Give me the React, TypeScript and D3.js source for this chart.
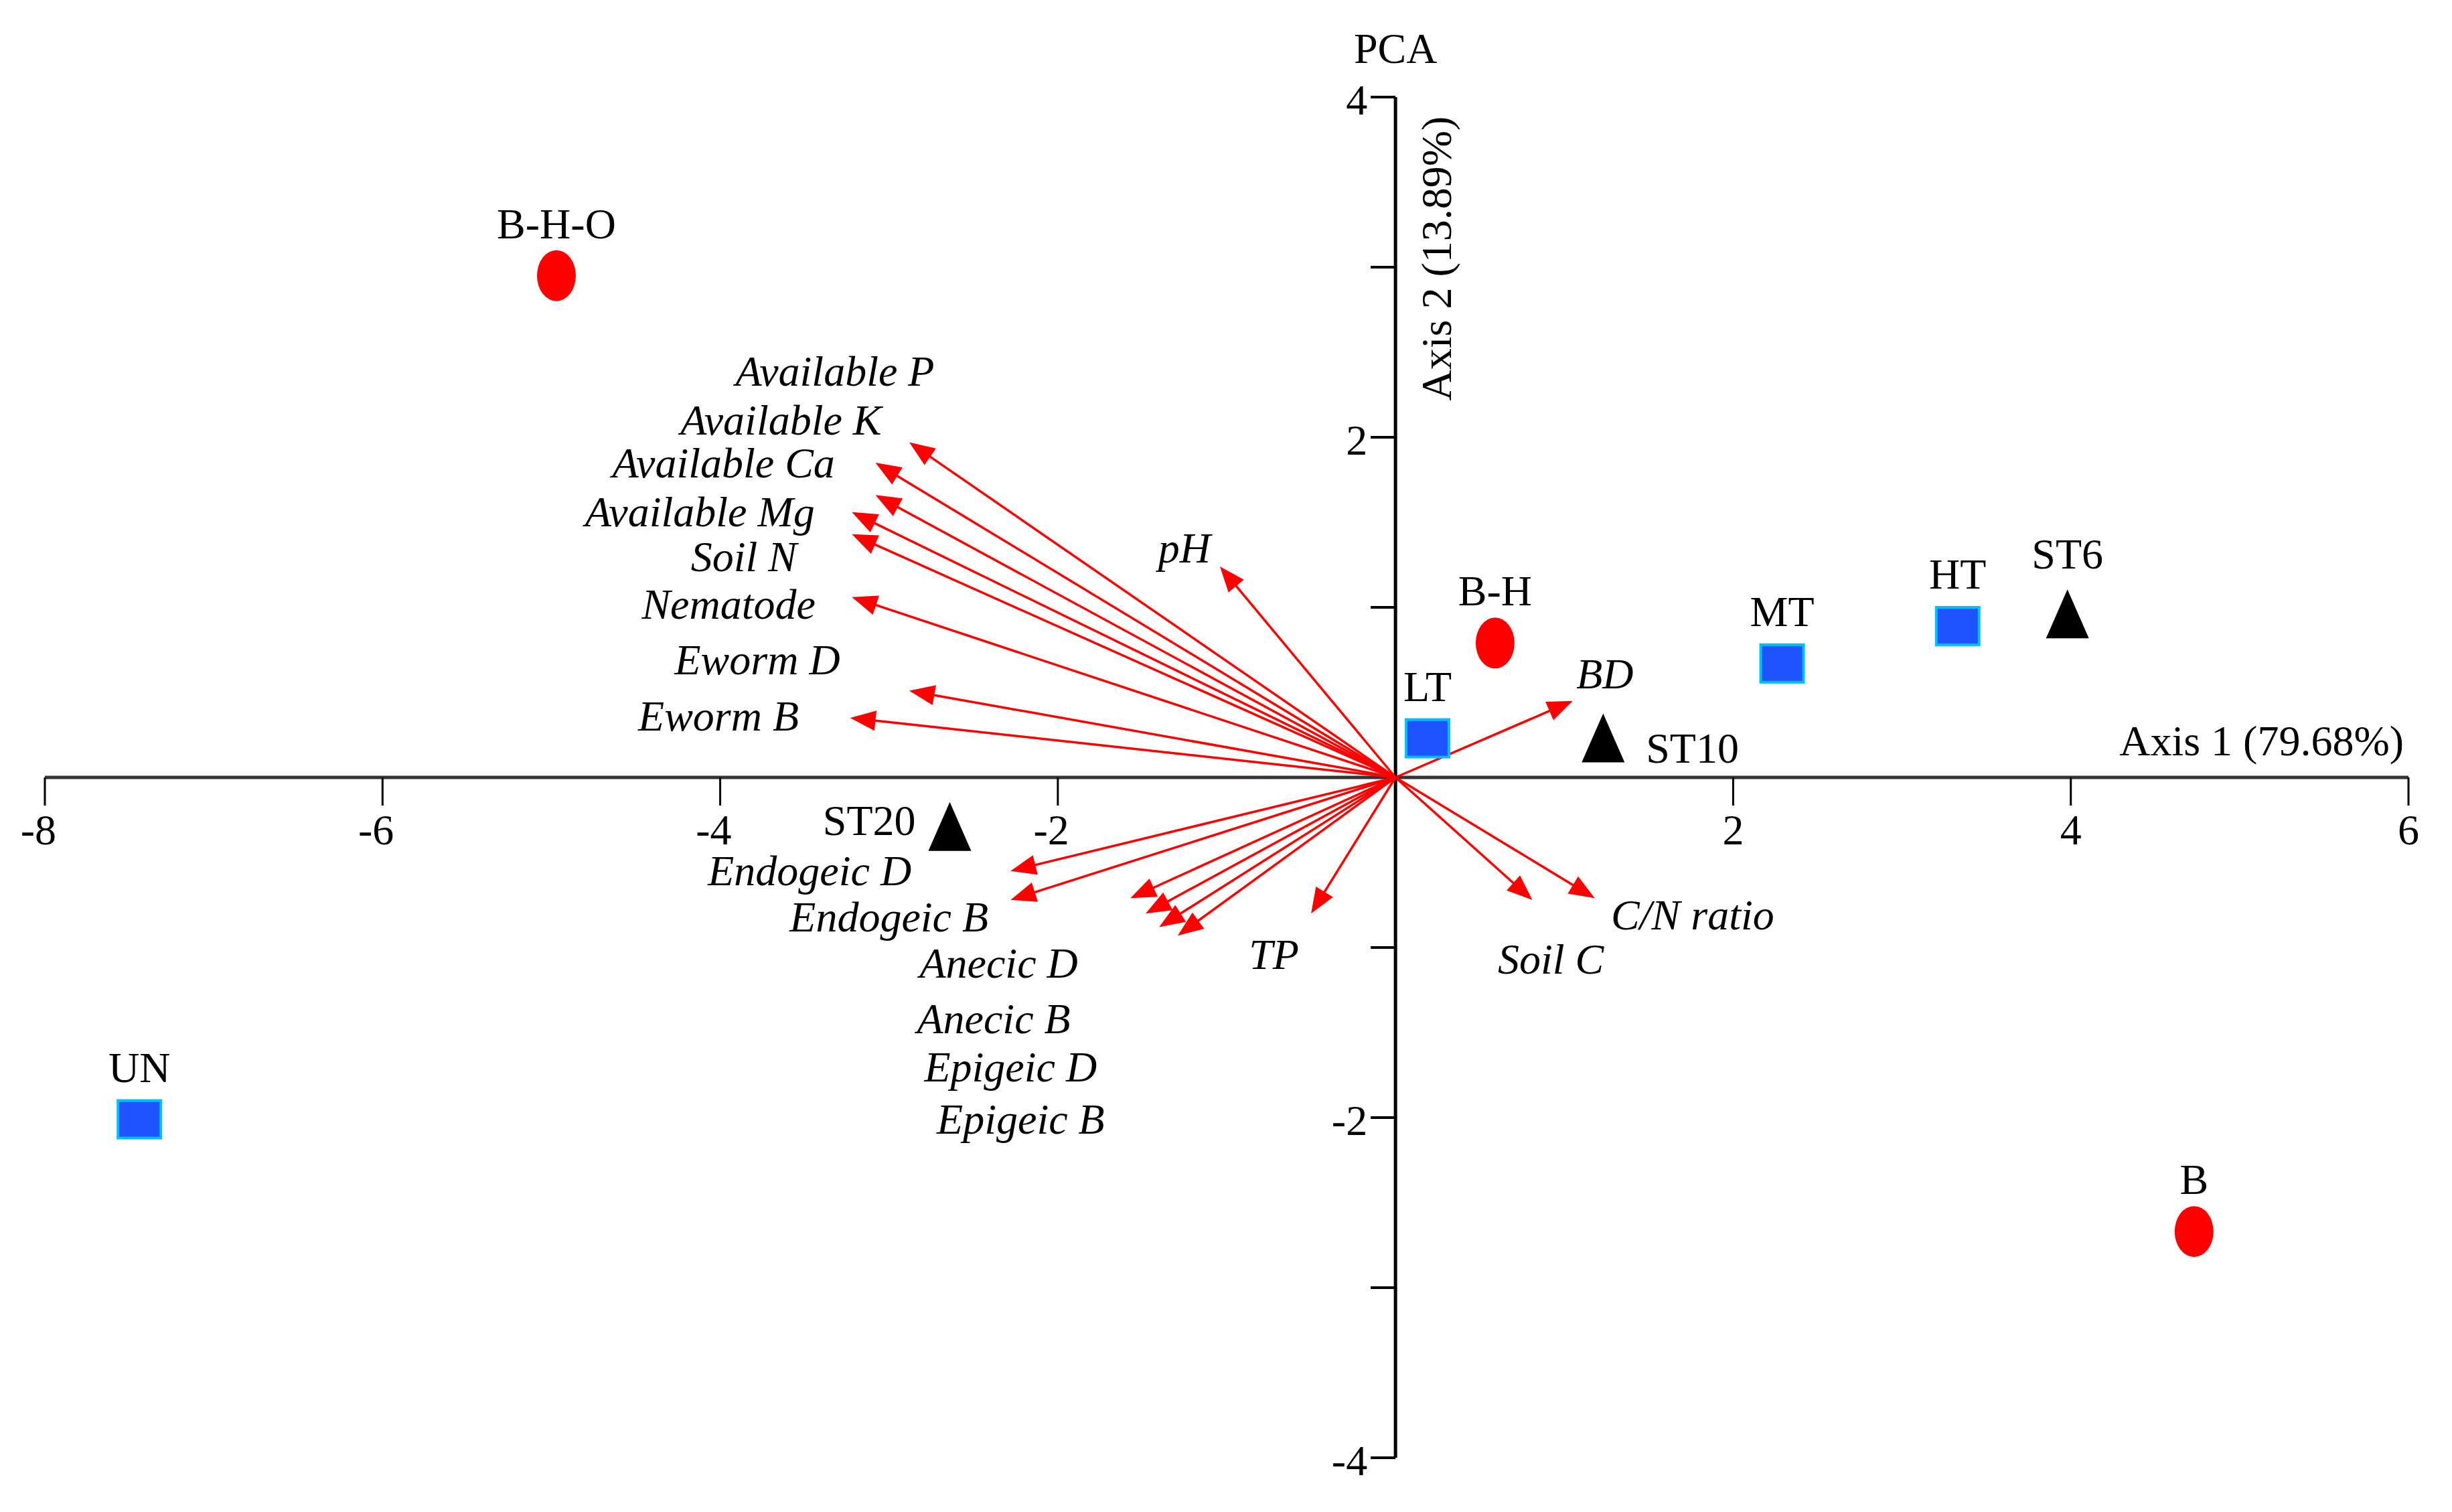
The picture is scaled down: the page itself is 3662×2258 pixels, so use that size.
import React from 'react';
import * as d3 from 'd3';

const W = 3662;
const H = 2258;

// Sample scores (Axis 1, Axis 2)
const sampleNames = ['B-H-O', 'B-H', 'B', 'UN', 'LT', 'MT', 'HT', 'ST6', 'ST10', 'ST20'];
const sampleX = [-4.97, 0.59, 4.73, -7.44, 0.19, 2.29, 3.33, 3.98, 1.23, -2.64];
const sampleY = [2.95, 0.79, -2.67, -2.01, 0.23, 0.67, 0.89, 0.96, 0.23, -0.29];
const sampleGroup = ['circle', 'circle', 'circle', 'square', 'square', 'square', 'square', 'triangle', 'triangle', 'triangle'];
const sampleLabelSide = ['above', 'above', 'above', 'above', 'above', 'above', 'above', 'above', 'right', 'left'];

// Variable loadings (arrow tips)
const varNames = [
  'Available P', 'Available K', 'Available Ca', 'Available Mg', 'Soil N', 'Nematode',
  'Eworm D', 'Eworm B', 'pH', 'Endogeic D', 'Endogeic B', 'Anecic D', 'Anecic B',
  'Epigeic D', 'Epigeic B', 'TP', 'Soil C', 'C/N ratio', 'BD',
];
const varX = [-2.88, -3.08, -3.08, -3.22, -3.22, -3.22, -2.88, -3.23, -1.04, -2.28, -2.28, -1.57, -1.48, -1.4, -1.29, -0.5, 0.81, 1.18, 1.05];
const varY = [1.97, 1.85, 1.66, 1.56, 1.43, 1.06, 0.51, 0.35, 1.24, -0.55, -0.72, -0.71, -0.8, -0.88, -0.93, -0.8, -0.72, -0.71, 0.45];
// Label anchor positions (data units, text centre)
const varLabelX = [-3.32, -3.64, -3.98, -4.12, -3.86, -3.95, -3.78, -4.01, -1.25, -3.47, -3.0, -2.35, -2.38, -2.28, -2.22, -0.72, 0.92, 1.76, 1.24];
const varLabelY = [2.36, 2.07, 1.82, 1.53, 1.27, 0.99, 0.66, 0.33, 1.32, -0.58, -0.85, -1.12, -1.45, -1.73, -2.04, -1.07, -1.1, -0.84, 0.58];

const xTickValues = [-8, -6, -4, -2, 2, 4, 6];
const yMajorTicks = [-4, -2, 2, 4];
const yMinorTicks = [-3, -1, 1, 3];

const FONT = "'Liberation Serif','Times New Roman',Times,serif";
const FS = 64;

export default function App() {
  const x = d3.scaleLinear().domain([-8, 6]).range([67, 3597]);
  const y = d3.scaleLinear().domain([-4, 4]).range([2177, 145]);
  const x0 = x(0);
  const y0 = y(0);

  const headLen = 38;
  const headHalf = 15;

  return (
    <svg
      width={W}
      height={H}
      style={{ position: 'absolute', left: 0, top: 0, background: '#fff' }}
      fontFamily={FONT}
    >
      <rect x={0} y={0} width={W} height={H} fill="#fff" />

      {/* Axes */}
      <line x1={x(-8)} x2={x(6)} y1={y0} y2={y0} stroke="#333" strokeWidth={5} />
      <line x1={x0} x2={x0} y1={y(4)} y2={y(-4)} stroke="#000" strokeWidth={5} />

      {xTickValues.map((v) => (
        <g key={'xt' + v}>
          <line x1={x(v)} x2={x(v)} y1={y0} y2={y0 + 42} stroke="#000" strokeWidth={3} />
          <text
            x={v < 0 ? x(v) + 17 : x(v)}
            y={y0 + 100}
            textAnchor={v < 0 ? 'end' : 'middle'}
            fontSize={FS}
            fill="#000"
          >
            {String(v)}
          </text>
        </g>
      ))}

      {yMajorTicks.concat(yMinorTicks).map((v) => (
        <line key={'yt' + v} x1={x0 - 37} x2={x0} y1={y(v)} y2={y(v)} stroke="#000" strokeWidth={4} />
      ))}
      {yMajorTicks.map((v) => (
        <text key={'yl' + v} x={x0 - 42} y={y(v)} dy="0.4em" textAnchor="end" fontSize={FS} fill="#000">
          {String(v)}
        </text>
      ))}

      {/* Titles */}
      <text x={x0} y={94} textAnchor="middle" fontSize={FS} fill="#000">PCA</text>
      <text x={3590} y={1128} textAnchor="end" fontSize={FS} fill="#000">Axis 1 (79.68%)</text>
      <text
        x={2167}
        y={386}
        textAnchor="middle"
        fontSize={FS}
        fill="#000"
        transform="rotate(-90, 2167, 386)"
      >
        Axis 2 (13.89%)
      </text>

      {/* Vectors */}
      {varNames.map((n, i) => {
        const tx = x(varX[i]);
        const ty = y(varY[i]);
        const dx = tx - x0;
        const dy = ty - y0;
        const len = Math.sqrt(dx * dx + dy * dy);
        const ux = dx / len;
        const uy = dy / len;
        const bx = tx - ux * headLen;
        const by = ty - uy * headLen;
        const px = -uy;
        const py = ux;
        const head = `M${tx},${ty}L${bx + px * headHalf},${by + py * headHalf}L${bx - px * headHalf},${by - py * headHalf}Z`;
        return (
          <g key={'v' + n}>
            <line x1={x0} y1={y0} x2={bx + ux * 4} y2={by + uy * 4} stroke="#ff0000" strokeWidth={3.5} />
            <path d={head} fill="#ff0000" />
          </g>
        );
      })}
      {varNames.map((n, i) => (
        <text
          key={'vl' + n}
          x={x(varLabelX[i])}
          y={y(varLabelY[i])}
          dy="0.22em"
          textAnchor="middle"
          fontSize={FS}
          fontStyle="italic"
          fill="#000"
        >
          {n}
        </text>
      ))}

      {/* Samples */}
      {sampleNames.map((n, i) => {
        const cx = x(sampleX[i]);
        const cy = y(sampleY[i]);
        const g = sampleGroup[i];
        let mark;
        if (g === 'circle') {
          mark = <ellipse cx={cx} cy={cy} rx={29} ry={38} fill="#ff0000" />;
        } else if (g === 'square') {
          mark = (
            <rect x={cx - 32} y={cy - 28} width={64} height={56} fill="#1f55ff" stroke="#00bfff" strokeWidth={4} />
          );
        } else {
          mark = <path d={`M${cx},${cy - 37}L${cx + 32},${cy + 36}L${cx - 32},${cy + 36}Z`} fill="#000" />;
        }
        const side = sampleLabelSide[i];
        let lx = cx;
        let ly = cy - (g === 'triangle' ? 68 : 56);
        let anchor = 'middle';
        if (side === 'right') {
          lx = cx + 64;
          ly = cy + 36;
          anchor = 'start';
        } else if (side === 'left') {
          lx = cx - 51;
          ly = cy + 12;
          anchor = 'end';
        }
        return (
          <g key={'s' + n}>
            {mark}
            <text x={lx} y={ly} textAnchor={anchor} fontSize={FS} fill="#000">
              {n}
            </text>
          </g>
        );
      })}
    </svg>
  );
}
